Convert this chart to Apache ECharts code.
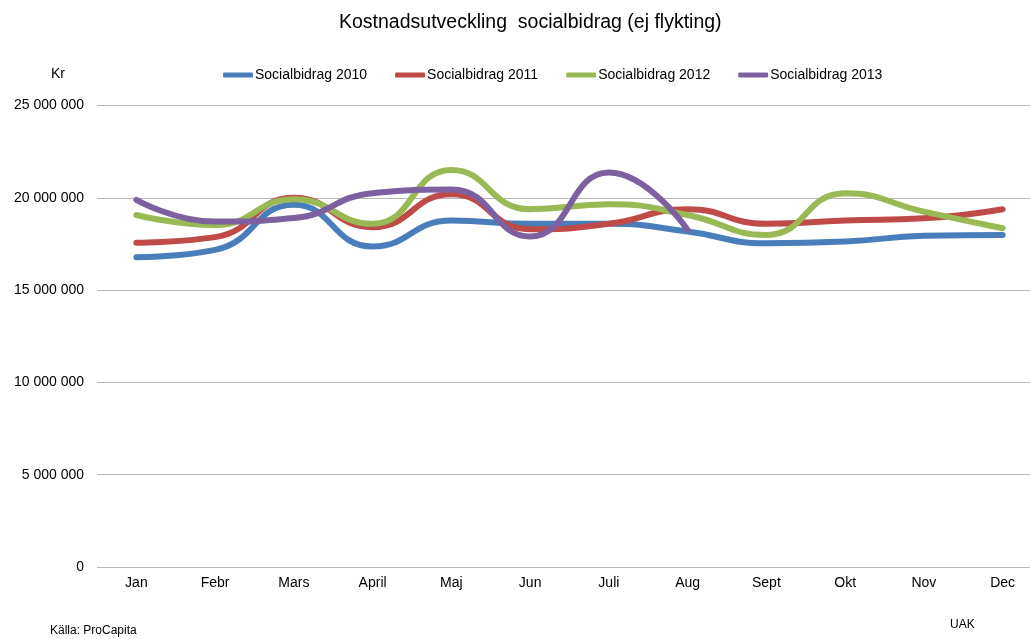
<!DOCTYPE html>
<html>
<head>
<meta charset="utf-8">
<title>Kostnadsutveckling socialbidrag</title>
<script src="https://cdn.jsdelivr.net/npm/echarts@6/dist/echarts.min.js"></script>
<style>
    html, body { margin: 0; padding: 0; background: #fff; overflow: hidden; }
    #main { width: 1030px; height: 639px; }
</style>
</head>
<body>
<div id="main"></div>
<script>
// manader
var months = ['Jan', 'Febr', 'Mars', 'April', 'Maj', 'Jun', 'Juli', 'Aug', 'Sept', 'Okt', 'Nov', 'Dec'];

// kostnad per manad (kr)
var bidrag2010 = [16780000, 17180000, 19620000, 17360000, 18770000, 18590000, 18590000, 18170000, 17540000, 17630000, 17940000, 17990000];
var bidrag2011 = [17570000, 17870000, 20000000, 18410000, 20190000, 18300000, 18590000, 19380000, 18590000, 18770000, 18890000, 19380000];
var bidrag2012 = [19070000, 18530000, 19920000, 18590000, 21510000, 19380000, 19650000, 19070000, 17990000, 20250000, 19250000, 18350000];
var bidrag2013 = [19890000, 18710000, 18900000, 20250000, 20450000, 17900000, 21370000, 18260000];

var yTicks = [0, 5000000, 10000000, 15000000, 20000000, 25000000];

var seriesNames = ['Socialbidrag 2010', 'Socialbidrag 2011', 'Socialbidrag 2012', 'Socialbidrag 2013'];
var seriesData = [bidrag2010, bidrag2011, bidrag2012, bidrag2013];
var colors = ['#4a7ebb', '#be4b48', '#98b954', '#7d60a0'];

//tusental med mellanslag
function fmt(v) {
    return String(v).replace(/\B(?=(\d{3})+(?!\d))/g, ' ');
}

var chart = echarts.init(document.getElementById('main'));

var series = [];
for (var i = 0; i < seriesNames.length; i++) {
    series.push({
        name: seriesNames[i],
        type: 'line',
        data: seriesData[i],
        smooth: 0.5,
        symbol: 'none',
        lineStyle: { width: 6, color: colors[i], cap: 'round' },
        itemStyle: { color: colors[i] }
    });
}

var option = {
    animation: false,
    textStyle: { fontFamily: 'Liberation Sans' },
    title: {
        text: 'Kostnadsutveckling  socialbidrag (ej flykting)',
        left: 334,
        top: 8,
        textStyle: { fontSize: 19.5, fontWeight: 'normal', color: '#000' }
    },
    legend: {
        data: seriesNames,
        top: 63,
        left: 218,
        icon: 'roundRect',
        itemWidth: 30,
        itemHeight: 5,
        itemGap: 28,
        textStyle: { fontSize: 14, color: '#000', padding: [0, 0, 0, -3] }
    },
    grid: {
        left: 97,
        width: 945,
        top: 105.5,
        bottom: 72,
        outerBoundsMode: 'none',
        containLabel: false
    },
    xAxis: {
        type: 'category',
        data: months,
        boundaryGap: true,
        axisLine: { show: false },
        axisTick: { show: false },
        axisLabel: { color: '#000', fontSize: 14, margin: 9 }
    },
    yAxis: {
        type: 'value',
        name: 'Kr',
        nameLocation: 'end',
        nameGap: 24,
        nameTextStyle: { color: '#000', fontSize: 14, align: 'center', padding: [0, 0, 0, -78] },
        min: yTicks[0],
        max: yTicks[yTicks.length - 1],
        interval: 5000000,
        axisLine: { show: false },
        axisTick: { show: false },
        axisLabel: { color: '#000', fontSize: 14, margin: 13, formatter: fmt },
        splitLine: { lineStyle: { color: '#b8b8b8', width: 1 } }
    },
    graphic: [
        { type: 'text', left: 50, top: 625, style: { text: 'Källa: ProCapita', fontSize: 12, fill: '#000', fontFamily: 'Liberation Sans' } },
        { type: 'text', left: 950, top: 619, style: { text: 'UAK', fontSize: 12, fill: '#000', fontFamily: 'Liberation Sans' } }
    ],
    series: series
};

chart.setOption(option);
window.onresize = chart.resize;
</script>
</body>
</html>
